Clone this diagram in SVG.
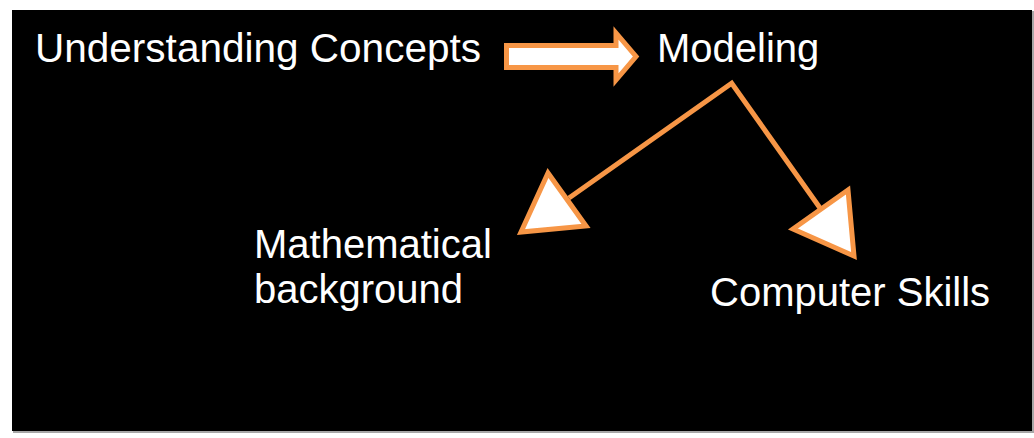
<svg xmlns="http://www.w3.org/2000/svg" width="1034" height="438" viewBox="0 0 1034 438">
<style>
.t{font-family:"Liberation Sans",Arial,sans-serif;font-size:40px;fill:#ffffff}
.o{fill:#ffffff;stroke:#f79646;stroke-width:5;stroke-linejoin:miter}
.c{fill:none;stroke:#f79646;stroke-width:5;stroke-linejoin:miter}
</style>
<rect x="0" y="0" width="1034" height="438" fill="#ffffff"/>
<rect x="13" y="11" width="1021" height="422" fill="#a6a6a6"/>
<rect x="12" y="10" width="1020" height="421" fill="#000000"/>
<g id="understanding"><text class="t" x="35" y="62" textLength="446" lengthAdjust="spacingAndGlyphs">Understanding Concepts</text></g>
<g id="modeling"><text class="t" x="657" y="62">Modeling</text></g>
<g id="math"><text class="t" x="254" y="258">Mathematical</text><text class="t" x="254" y="303">background</text></g>
<g id="computer"><text class="t" x="710" y="306">Computer Skills</text></g>
<g id="connectors">
<polygon class="o" points="506.5,45.5 616,45.5 616,33 636,56.5 616,80 616,67.5 506.5,67.5"/>
<polyline class="c" points="569,198 731.7,83.3 820,208"/>
<polygon class="o" points="548,173 521,232 586,226"/>
<polygon class="o" points="848,190 793,229 854,256"/>
</g>
</svg>
